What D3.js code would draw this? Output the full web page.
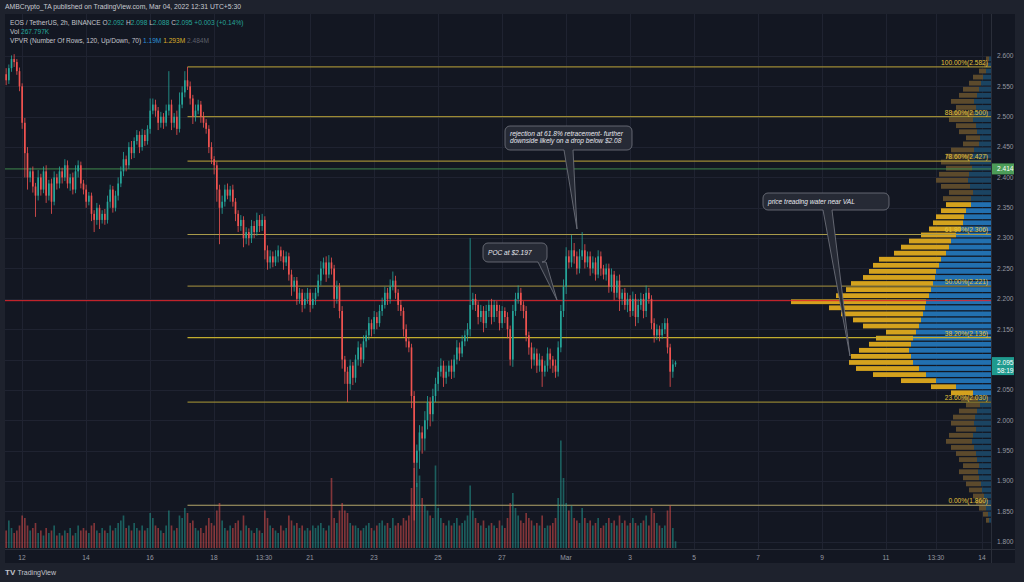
<!DOCTYPE html>
<html><head><meta charset="utf-8">
<script src="https://cdn.jsdelivr.net/npm/d3@7"></script>
<style>html,body{margin:0;padding:0;background:#1e222d;overflow:hidden}svg{display:block}</style>
</head><body><svg id="c" width="1024" height="582"></svg>
<script>
// ---------------- DATA ----------------
const firstOpen = 2.55;
const closes = [
2.57,2.56,2.58,2.595,2.59,2.575,2.55,2.49,
2.44,2.40,2.41,2.385,2.37,
2.40,2.38,2.41,2.37,2.39,2.36,2.40,2.39,2.41,
2.40,2.42,2.39,2.40,2.38,2.41,2.42,2.39,
2.38,2.36,2.37,2.34,
2.33,2.35,2.33,2.34,2.33,
2.36,2.38,2.35,2.37,2.39,
2.41,2.43,2.42,
2.45,2.44,2.46,2.47,2.45,2.47,
2.46,2.48,2.51,
2.52,2.51,2.49,
2.50,2.49,2.51,2.52,
2.49,2.50,2.48,2.52,
2.54,2.56,2.55,2.53,
2.50,2.51,
2.52,2.50,2.49,2.48,
2.45,2.43,2.42,
2.38,2.35,
2.36,2.38,2.37,2.38,
2.36,2.34,2.32,2.33,
2.30,2.31,2.30,
2.32,2.31,2.33,2.32,2.33,
2.28,2.26,2.27,
2.26,2.27,2.28,2.27,2.26,2.27,
2.24,2.22,2.23,
2.20,2.21,2.19,2.20,
2.21,2.19,2.20,2.21,
2.23,2.25,2.26,2.24,2.26,
2.25,2.20,2.22,2.18,2.10,2.08,
2.06,2.09,2.07,
2.10,2.12,2.10,2.13,
2.14,2.16,2.15,2.17,2.16,2.18,
2.19,2.21,2.20,2.22,2.23,2.21,
2.19,2.18,2.15,2.13,2.12,
2.04,1.93,1.95,
1.98,1.97,2.00,2.03,2.01,2.04,
2.06,2.08,2.09,2.07,2.08,
2.09,2.08,2.10,2.12,2.11,2.13,
2.14,2.15,2.19,2.20,
2.19,2.17,2.18,2.16,2.18,2.19,
2.17,2.19,2.18,2.16,2.18,2.17,2.15,
2.10,2.18,2.20,
2.21,2.19,2.18,
2.14,2.12,2.10,2.11,
2.09,2.10,2.08,2.09,2.11,
2.10,2.09,2.08,2.12,
2.18,2.22,2.27,
2.26,2.28,2.27,2.25,2.27,2.28,2.26,2.27,
2.25,2.26,2.24,2.27,2.25,2.24,2.25,
2.22,2.24,2.21,2.23,2.20,2.21,
2.19,2.20,2.18,2.20,2.17,2.19,
2.20,2.18,2.21,2.20,
2.16,2.14,
2.15,2.14,2.15,2.16,
2.12,2.08,
2.092,2.095];
// upper / lower wick length beyond the body, in 0.001 USDT
const wickUp = [
8,10,6,6,8,5,6,5, 8,10,6,8,6, 12,6,8,10,6,8,10,6,8, 6,10,8,6,8,10,8,6, 6,8,6,5, 6,8,5,6,8,
10,8,6,8,10, 8,12,6, 8,10,6,8,6,10, 8,6,20, 10,8,6, 8,6,10,55, 8,6,10,20, 10,15,22,8, 6,10,
8,6,8,6, 6,8,5, 6,8, 10,8,10,6, 8,6,6,8, 6,8,6, 10,8,12,8,10, 6,8,10, 8,10,8,6,10,8, 6,8,6,
6,8,6,10, 8,6,10,8, 10,12,8,10,12, 8,6,10,6,8,6, 8,10,6, 8,10,6,10, 8,10,6,10,8,10,
12,10,8,12,15,8, 6,8,6,8,6, 6,8,10, 12,10,15,10,8,12, 10,8,12,8,10, 8,10,8,12,8,10,
8,10,110,10, 8,6,10,8,10,8, 10,8,6,10,8,6,8, 6,10,10, 12,8,6, 8,6,8,10, 8,10,6,8,10,
8,6,10,10, 10,12,15, 10,25,12,8,12,30,10,8, 8,10,8,10,8,6,8, 8,10,6,8,10,6, 8,10,6,12,8,10,
10,8,12,8, 6,8, 8,6,10,8, 8,6, 8,3];
const wickDown = [
20,8,6,6,8,6,8,10, 40,20,8,10,35, 8,10,6,12,8,20,6,10,8, 10,6,8,12,8,6,10,8, 8,10,6,12, 20,8,15,6,8,
6,10,8,6,8, 6,8,10, 6,10,8,6,10,6, 8,6,8, 6,10,12, 8,10,6,8, 12,8,10,6, 6,8,6,10, 12,8,
6,10,8,8, 10,8,15, 20,60, 10,8,6,10, 8,12,10,8, 15,10,12, 8,10,6,10,8, 15,12,10, 8,6,10,8,12,6, 10,15,8,
10,8,12,6, 8,12,6,10, 6,8,10,12,6, 10,15,8,12,15,20, 30,10,12, 8,10,12,6, 10,8,12,8,10,6,
8,6,10,8,6,10, 10,8,12,10,8, 20,95,40, 30,25,20,15,20,12, 10,12,8,15,10, 8,12,10,8,12,6,
8,10,12,8, 10,12,8,15,8,10, 12,8,10,12,8,10,15, 10,12,8, 8,10,12, 10,12,15,10, 12,10,25,8,10,
15,12,10,8, 8,10,12, 10,8,12,10,8,6,10,8, 12,8,10,6,12,8,10, 10,8,12,8,20,10, 8,12,10,8,15,10,
8,12,10,8, 10,12, 8,10,6,8, 10,25, 10,4];
// volume per candle, in K
const volumes = [
900,700,1100,800,600,700,900,1300, 1200,900,700,800,1000, 600,700,500,800,600,700,900,500,600,
500,700,600,800,500,600,900,700, 800,700,600,900, 1000,700,600,800,700, 600,900,700,800,1000,
1100,1300,800, 900,700,1000,800,700,900, 700,800,1400, 1200,900,800, 700,600,900,1500,
900,700,800,1300, 1200,1600,1400,1000, 1100,800, 700,800,600,900, 1200,1000,900, 1500,1800,
1100,800,700,900, 800,1000,1100,700, 1300,900,800, 700,600,800,700,600, 1500,1200,900,
800,700,600,900,700,800, 1300,1100,900, 1000,800,900,700, 800,700,900,800, 900,1000,800,700,900,
2800,1200,1000,1500,1800,1500, 1400,1000,900, 900,800,700,800, 900,1000,800,700,900,1000,
1100,900,1000,800,1200,900, 1000,900,1200,1100,1300, 2400,3200,2600, 2900,2000,1700,1500,1300,1200,
3300,1600,1200,1000,900, 1100,900,1000,1200,900,1000, 1100,1300,2500,1500, 1200,1000,900,1100,800,900,
1000,900,800,1100,900,800,1200, 1800,2200,1600, 1300,1100,1000, 1400,1200,1100,900, 1000,900,1300,800,900,
900,1000,1200,2000, 4300,2800,1800, 1500,1700,1200,1100,1000,1600,1200,1000, 1100,900,1000,1200,800,900,1000,
1200,1000,1100,900,1300,1000, 1100,900,1000,1200,1000,900, 1000,1100,1300,900, 1600,1400, 1000,900,800,900,
1500,1700, 800,270];
// Visible-range volume profile: row lower bound (step 0.01), up and down volume
const vpRowLow = d3.range(77).map(k => +(1.83 + k * 0.01).toFixed(2));
const vpUp = [2,3,5,6,7,9,10,12,13,12,14,15,17,19,18,15,17,16,14,11,13,18,35,55,65,72,78,80,82,80,78,75,72,70,68,66,65,62,60,58,56,55,52,50,45,42,40,35,30,28,27,25,20,20,18,21,23,22,19,21,19,17,12,11,14,15,18,17,15,17,14,12,10,8,5,3,2];
const vpDown = [3,5,7,9,11,13,15,16,19,16,18,20,23,26,24,20,23,22,18,14,17,22,25,35,53,63,64,60,50,42,37,30,56,68,82,96,135,93,85,82,72,67,66,62,52,48,42,35,32,30,28,25,25,28,24,29,32,30,26,29,26,23,16,14,18,20,24,23,20,23,18,16,12,10,7,4,3];
const valueArea = [2.04, 2.36];
const pocPrice = 2.197;
const hLinePrice = 2.414;
// Fibonacci retracement
const fibRatios = ["100.00%","88.60%","78.60%","61.80%","50.00%","38.20%","23.60%","0.00%"];
const fibPrices = [2.582,2.500,2.427,2.306,2.221,2.136,2.030,1.860];
const fibStartIndex = 69;
// Axes
const priceTicks = d3.range(17).map(k => +(1.80 + k * 0.05).toFixed(2));
const timeTickDates = [[1,12,0],[1,14,0],[1,16,0],[1,18,0],[1,19,13.5],[1,21,0],[1,23,0],[1,25,0],[1,27,0],[2,1,0],[2,3,0],[2,5,0],[2,7,0],[2,9,0],[2,11,0],[2,12,13.5],[2,14,0]];
const timeTickLabels = ["12","14","16","18","13:30","21","23","25","27","Mar","3","5","7","9","11","13:30","14"];
const lastPrice = 2.095, lastCountdown = "58:19";

// ---------------- LAYOUT ----------------
const svg = d3.select("#c");
const W = 1024, H = 582;
const plotL = 5, plotR = 991, plotT = 14, plotB = 549, axisR = 1015, axisB = 563;
const FONT = "'Liberation Sans', Arial, sans-serif";
const HOUR = 3600e3;
const start = Date.UTC(2022,1,11,10,30);
const candles = closes.map((c,i) => {
  const o = i === 0 ? firstOpen : closes[i-1];
  return {t: new Date(start + i*2*HOUR), o, c,
    h: Math.max(o,c) + wickUp[i]/1000, l: Math.min(o,c) - wickDown[i]/1000, v: volumes[i]};
});

const x = d3.scaleUtc().domain([Date.UTC(2022,1,12), Date.UTC(2022,2,14)]).range([21.5, 981.5]);
const y = d3.scaleLinear().domain([1.8, 2.6]).range([541.7, 56]);
const yV = d3.scaleLinear().domain([0, 5000]).range([548, 423]);

svg.append("rect").attr("width",W).attr("height",H).attr("fill","#1e222d");
svg.append("rect").attr("x",plotL).attr("y",plotT).attr("width",axisR-plotL).attr("height",axisB-plotT).attr("fill","#131722");

const clip = svg.append("defs").append("clipPath").attr("id","pc");
clip.append("rect").attr("x",plotL).attr("y",plotT).attr("width",plotR-plotL).attr("height",plotB-plotT);
const g = svg.append("g").attr("clip-path","url(#pc)");

// grid
const tickDates = timeTickDates.map(d => new Date(Date.UTC(2022,d[0],d[1]) + d[2]*HOUR));
g.selectAll("line.vg").data(tickDates).join("line").attr("class","vg")
  .attr("x1",d=>Math.round(x(d))+0.5).attr("x2",d=>Math.round(x(d))+0.5).attr("y1",plotT).attr("y2",plotB)
  .attr("stroke","#1f2331").attr("stroke-width",1);
g.selectAll("line.hg").data(priceTicks).join("line").attr("class","hg")
  .attr("x1",plotL).attr("x2",plotR).attr("y1",d=>Math.round(y(d))+0.5).attr("y2",d=>Math.round(y(d))+0.5)
  .attr("stroke","#1f2331").attr("stroke-width",1);

// volume profile
const vpScale = d3.scaleLinear().domain([0, d3.max(vpUp.map((u,i)=>u+vpDown[i]))]).range([0, 200]);
const rowH = y(1.8) - y(1.81);
const vp = vpRowLow.map((lo,i)=>({lo, up: vpUp[i], dn: vpDown[i], va: lo >= valueArea[0]-1e-9 && lo < valueArea[1]-1e-9}));
const vpG = g.append("g");
vp.forEach(r => {
  const yt = y(r.lo + 0.01) + 0.5, h = rowH - 1.3;
  const wu = vpScale(r.up), wd = vpScale(r.dn);
  vpG.append("rect").attr("x",plotR - wu).attr("y",yt).attr("width",wu).attr("height",h)
    .attr("fill", r.va ? "#2270b0" : "#1b4462");
  vpG.append("rect").attr("x",plotR - wu - wd).attr("y",yt).attr("width",wd).attr("height",h)
    .attr("fill", r.va ? "#d4a21e" : "#5c4a2c");
});

// horizontal lines
g.append("line").attr("x1",plotL).attr("x2",plotR).attr("y1",y(hLinePrice)).attr("y2",y(hLinePrice)).attr("stroke","#3f8a4d").attr("stroke-width",1);
g.append("line").attr("x1",plotL).attr("x2",plotR).attr("y1",y(pocPrice)).attr("y2",y(pocPrice)).attr("stroke","#e0262e").attr("stroke-width",1);

// fib
const fx0 = x(candles[fibStartIndex].t);
const fibColors = ["#9c8a35","#9c8a35","#9c8a35","#a89a4a","#8c7d3a","#c2ad2e","#8f8132","#b3a66a"];
fibPrices.forEach((p,i) => {
  g.append("line").attr("x1",fx0).attr("x2",plotR).attr("y1",y(p)).attr("y2",y(p)).attr("stroke",fibColors[i]).attr("stroke-width",1.2);
  g.append("text").attr("x",plotR-3).attr("y",y(p)-2).attr("text-anchor","end").attr("font-family",FONT)
    .attr("font-size",6.6).attr("fill","#e3c43c").text(`${fibRatios[i]}(${p.toFixed(3)})`);
});

// volume bars
const bw = (x(new Date(start+2*HOUR)) - x(new Date(start))) * 0.62;
g.selectAll("rect.vol").data(candles).join("rect").attr("class","vol")
  .attr("x",d=>x(d.t)-bw/2).attr("width",bw).attr("y",d=>yV(d.v)).attr("height",d=>yV(0)-yV(d.v))
  .attr("fill",d=>d.c>=d.o?"#26a69a":"#ef5350").attr("opacity",0.5);

// candles
const cg = g.append("g");
cg.selectAll("line").data(candles).join("line")
  .attr("x1",d=>x(d.t)).attr("x2",d=>x(d.t)).attr("y1",d=>y(d.h)).attr("y2",d=>y(d.l))
  .attr("stroke",d=>d.c>=d.o?"#26a69a":"#ef5350").attr("stroke-width",0.8);
cg.selectAll("rect").data(candles).join("rect")
  .attr("x",d=>x(d.t)-bw/2).attr("width",bw)
  .attr("y",d=>y(Math.max(d.o,d.c))).attr("height",d=>Math.max(0.8, Math.abs(y(d.o)-y(d.c))))
  .attr("fill",d=>d.c>=d.o?"#26a69a":"#ef5350");

// callouts
function callout(bx, by, bw2, bh, tail, lines, tx, ty) {
  const r = 5;
  const [a, b, tip] = tail;
  const p = d3.path();
  p.moveTo(bx + r, by);
  p.lineTo(bx + bw2 - r, by); p.arcTo(bx + bw2, by, bx + bw2, by + r, r);
  p.lineTo(bx + bw2, by + bh - r); p.arcTo(bx + bw2, by + bh, bx + bw2 - r, by + bh, r);
  p.lineTo(b, by + bh); p.lineTo(tip[0], tip[1]); p.lineTo(a, by + bh);
  p.lineTo(bx + r, by + bh); p.arcTo(bx, by + bh, bx, by + bh - r, r);
  p.lineTo(bx, by + r); p.arcTo(bx, by, bx + r, by, r);
  p.closePath();
  svg.append("path").attr("d", p.toString()).attr("fill","#262a35").attr("stroke","#6b6e78").attr("stroke-width",0.9);
  lines.forEach((t,i) => svg.append("text").attr("x",tx).attr("y",ty + i*7.5).attr("font-family",FONT)
    .attr("font-style","italic").attr("font-size",6.6).attr("fill","#e6e8ee").text(t));
}
callout(505, 126, 127, 24, [564, 573, [577, 229]],
  ["rejection at 61.8% retracement- further","downside likely on a drop below $2.08"], 510, 135.5);
callout(483, 243, 64, 19, [538, 546, [557, 300]], ["POC at $2.197"], 488, 255);
callout(763, 193, 126, 17, [823, 832, [850, 356]], ["price treading water near VAL"], 768, 203.5);

// price axis
svg.append("line").attr("x1",plotR+0.5).attr("x2",plotR+0.5).attr("y1",plotT).attr("y2",axisB).attr("stroke","#2a2e39");
svg.append("line").attr("x1",plotL).attr("x2",axisR).attr("y1",plotB+0.5).attr("y2",plotB+0.5).attr("stroke","#2a2e39");
// tick labels hidden behind the highlighted last-price label are not drawn
const shownTicks = priceTicks.filter(d => Math.abs(y(d) - (y(lastPrice) + 3.5)) > 10);
svg.selectAll("text.pt").data(shownTicks).join("text").attr("class","pt")
  .attr("x",997).attr("y",d=>y(d)+2.3).attr("font-family",FONT).attr("font-size",6.6).attr("fill","#9598a1")
  .text(d=>d.toFixed(3));
svg.append("rect").attr("x",992).attr("y",y(hLinePrice)-5.5).attr("width",22).attr("height",11).attr("fill","#4c9c58");
svg.append("text").attr("x",997).attr("y",y(hLinePrice)+2.3).attr("font-family",FONT).attr("font-size",6.6).attr("fill","#ffffff").text(hLinePrice.toFixed(3));
svg.append("rect").attr("x",992).attr("y",y(lastPrice)-5.5).attr("width",22).attr("height",18).attr("fill","#1f9a8e");
svg.append("text").attr("x",997).attr("y",y(lastPrice)+2.3).attr("font-family",FONT).attr("font-size",6.6).attr("fill","#ffffff").text(lastPrice.toFixed(3));
svg.append("text").attr("x",997).attr("y",y(lastPrice)+10).attr("font-family",FONT).attr("font-size",6.6).attr("fill","#ffffff").text(lastCountdown);

// time axis
const xAxis = d3.axisBottom(x).tickValues(tickDates).tickSize(0).tickFormat((d,i)=>timeTickLabels[i]);
const ax = svg.append("g").attr("transform",`translate(0,${plotB+2})`).call(xAxis);
ax.select(".domain").remove();
ax.selectAll("text").attr("font-family",FONT).attr("font-size",6.6).attr("fill","#9598a1").attr("dy","0.9em");

// header
svg.append("text").attr("x",5).attr("y",9).attr("font-family",FONT).attr("font-size",6.8).attr("fill","#c8cad0")
  .text("AMBCrypto_TA published on TradingView.com, Mar 04, 2022 12:31 UTC+5:30");
function legend(yy, parts) {
  const t = svg.append("text").attr("x",10).attr("y",yy).attr("font-family",FONT).attr("font-size",6.6);
  parts.forEach(([s,c]) => t.append("tspan").attr("fill",c).text(s));
}
const G = "#c3c5cc", T = "#26a69a";
legend(25, [["EOS / TetherUS, 2h, BINANCE  ",G],["O",G],["2.092 ",T],["H",G],["2.098 ",T],["L",G],["2.088 ",T],["C",G],["2.095 ",T],["+0.003 (+0.14%)",T]]);
legend(34, [["Vol  ",G],["267.797K",T]]);
legend(43, [["VPVR (Number Of Rows, 120, Up/Down, 70)  ",G],["1.19M  ","#2c8fd6"],["1.293M  ","#d9ae2a"],["2.484M","#5d606b"]]);

// footer logo
const lg = svg.append("text").attr("x",5).attr("y",575).attr("font-family",FONT).attr("font-size",7).attr("fill","#c3c5cc");
lg.append("tspan").attr("font-weight","bold").attr("font-size",8).text("TV ");
lg.append("tspan").text("TradingView");
</script></body></html>
